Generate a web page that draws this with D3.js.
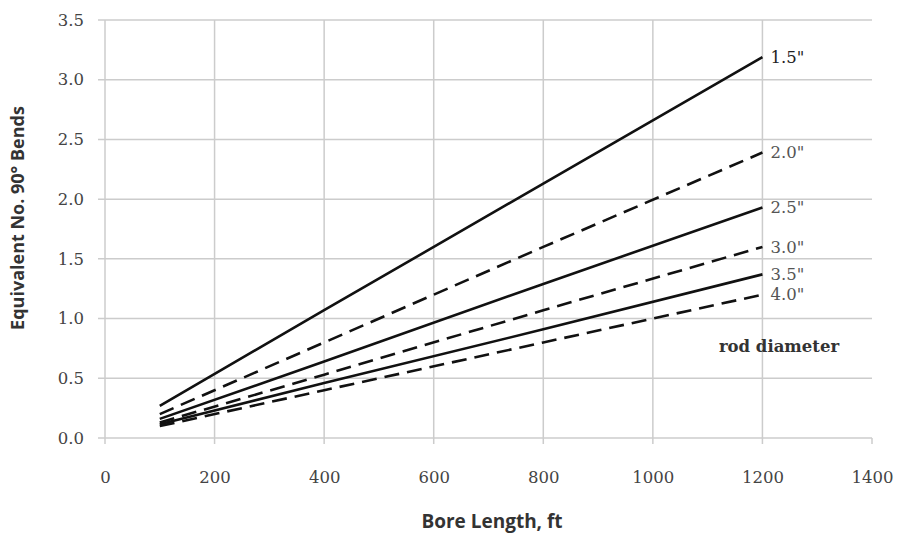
<!DOCTYPE html>
<html>
<head>
<meta charset="utf-8">
<script src="https://cdn.jsdelivr.net/npm/d3@7"></script>
<style>
  body { margin: 0; background: #fff; }
  .tick text { font-family: 'DejaVu Serif', serif; }
</style>
</head>
<body>
<div id="chart"></div>
<script>
// bore length (ft) where each curve is read
const boreLength = [100, 400, 800, 1200];
const diameters = ['1.5"', '2.0"', '2.5"', '3.0"', '3.5"', '4.0"'];
const bends = [
  [0.27, 1.07, 2.13, 3.19],
  [0.20, 0.80, 1.60, 2.39],
  [0.16, 0.64, 1.29, 1.93],
  [0.13, 0.53, 1.07, 1.60],
  [0.115, 0.46, 0.91, 1.37],
  [0.10, 0.40, 0.80, 1.20]
];
const dashed = [false, true, false, true, false, true];
const xTicks = [0, 200, 400, 600, 800, 1000, 1200, 1400];
const yTicks = [0, 0.5, 1.0, 1.5, 2.0, 2.5, 3.0, 3.5];

const chart = () => {
  const width = 899;
  const height = 534;
  const svg = d3.select('#chart')
    .append('svg')
    .attr('width', width)
    .attr('height', height);

  const x = d3.scaleLinear().domain([0, 1400]).range([105, 872]);
  const y = d3.scaleLinear().domain([0, 3.5]).range([438, 20]);

  // horizontal gridlines (with left ticks)
  svg.append('g')
    .selectAll('line')
    .data(yTicks)
    .join('line')
    .attr('x1', 98)
    .attr('x2', 872)
    .attr('y1', d => y(d))
    .attr('y2', d => y(d))
    .attr('stroke', '#cccccc')
    .attr('stroke-width', 1.5);

  // vertical gridlines (with bottom ticks), none at 1400
  svg.append('g')
    .selectAll('line')
    .data(xTicks.filter(d => d < 1400))
    .join('line')
    .attr('x1', d => x(d))
    .attr('x2', d => x(d))
    .attr('y1', y(3.5))
    .attr('y2', 444)
    .attr('stroke', '#cccccc')
    .attr('stroke-width', 1.5);

  svg.append('line')
    .attr('x1', x(1400)).attr('x2', x(1400))
    .attr('y1', y(0)).attr('y2', 444)
    .attr('stroke', '#cccccc')
    .attr('stroke-width', 1.5);

  // tick labels
  const yAxis = svg.append('g')
    .attr('transform', 'translate(98,0)')
    .call(d3.axisLeft(y).tickValues(yTicks).tickFormat(d3.format('.1f')).tickSize(0).tickPadding(14));
  yAxis.select('.domain').remove();
  yAxis.selectAll('text')
    .attr('font-size', 16.5)
    .attr('fill', '#444');

  const xAxis = svg.append('g')
    .attr('transform', 'translate(0,468)')
    .call(d3.axisBottom(x).tickValues(xTicks).tickFormat(d3.format('d')).tickSize(0));
  xAxis.select('.domain').remove();
  xAxis.selectAll('text')
    .attr('font-size', 16.5)
    .attr('fill', '#444');

  // series
  const series = diameters.map((name, i) => ({
    name,
    dashed: dashed[i],
    values: boreLength.map((b, j) => ({ b, v: bends[i][j] }))
  }));

  const line = d3.line()
    .x(d => x(d.b))
    .y(d => y(d.v));

  svg.append('g')
    .attr('fill', 'none')
    .selectAll('path')
    .data(series)
    .join('path')
    .attr('d', d => line(d.values))
    .attr('stroke', '#111')
    .attr('stroke-width', 2.6)
    .attr('stroke-dasharray', d => d.dashed ? '15,8' : null);

  // end labels
  svg.append('g')
    .selectAll('text')
    .data(series)
    .join('text')
    .attr('x', d => x(1200) + 8)
    .attr('y', d => y(d.values[d.values.length - 1].v))
    .attr('dy', '0.35em')
    .attr('font-family', "'DejaVu Serif', serif")
    .attr('font-size', 16.5)
    .attr('fill', (d, i) => i === 0 ? '#222' : '#555')
    .text(d => d.name);

  svg.append('text')
    .attr('x', 779)
    .attr('y', 352)
    .attr('text-anchor', 'middle')
    .attr('font-family', "'DejaVu Serif', serif")
    .attr('font-weight', 'bold')
    .attr('font-size', 16.5)
    .attr('fill', '#333')
    .text('rod diameter');

  // axis titles
  svg.append('text')
    .attr('x', 492)
    .attr('y', 528)
    .attr('text-anchor', 'middle')
    .attr('font-family', "'Open Sans', sans-serif")
    .attr('font-weight', 'bold')
    .attr('font-size', 19)
    .attr('fill', '#333')
    .text('Bore Length, ft');

  svg.append('text')
    .attr('transform', 'translate(24,218) rotate(-90)')
    .attr('text-anchor', 'middle')
    .attr('font-family', "'Open Sans', sans-serif")
    .attr('font-weight', 'bold')
    .attr('font-size', 18)
    .attr('fill', '#333')
    .text('Equivalent No. 90° Bends');
}

chart();
</script>
</body>
</html>
